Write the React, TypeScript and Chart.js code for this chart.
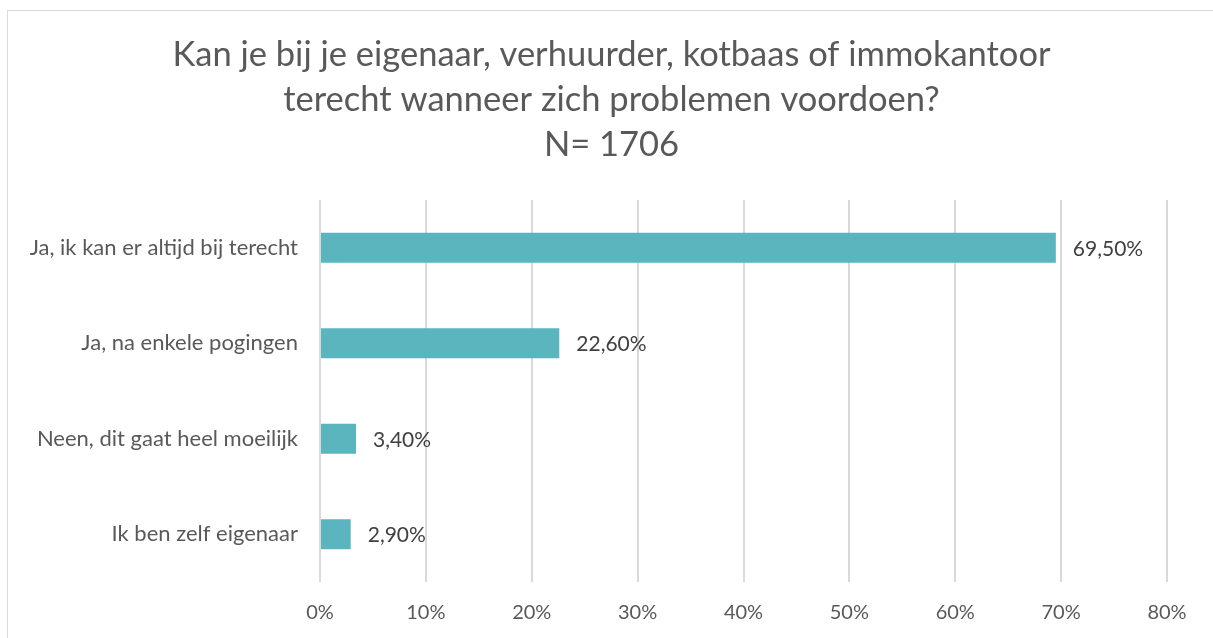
import React, { useEffect, useRef } from "react";
import { Chart, registerables } from "chart.js";

Chart.register(...registerables);

const titleLines = [
  "Kan je bij je eigenaar, verhuurder, kotbaas of immokantoor",
  "terecht wanneer zich problemen voordoen?",
  "N= 1706",
];
const categories = [
  "Ja, ik kan er altijd bij terecht",
  "Ja, na enkele pogingen",
  "Neen, dit gaat heel moeilijk",
  "Ik ben zelf eigenaar",
];
const values = [69.5, 22.6, 3.4, 2.9];
const valueLabels = ["69,50%", "22,60%", "3,40%", "2,90%"];
const xMax = 80;
const xStep = 10;

const FONT = "Lato, 'Open Sans', sans-serif";

const dataLabelPlugin = {
  id: "dataLabels",
  afterDatasetsDraw(chart: any) {
    const ctx = chart.ctx;
    const meta = chart.getDatasetMeta(0);
    ctx.save();
    ctx.font = `21px ${FONT}`;
    ctx.fillStyle = "#404040";
    ctx.textAlign = "left";
    ctx.textBaseline = "middle";
    meta.data.forEach((bar: any, i: number) => {
      ctx.fillText(valueLabels[i], bar.x + 17, bar.y + 1);
    });
    ctx.restore();
  },
};

const titlePlugin = {
  id: "centeredTitle",
  afterDraw(chart: any) {
    const ctx = chart.ctx;
    ctx.save();
    ctx.font = `34.5px ${FONT}`;
    ctx.fillStyle = "#595959";
    ctx.textAlign = "center";
    ctx.textBaseline = "middle";
    const cx = chart.width / 2 + 5;
    titleLines.forEach((line, i) => {
      ctx.fillText(line, cx, 55 + i * 45);
    });
    ctx.restore();
  },
};

export default function App() {
  const ref = useRef<HTMLCanvasElement>(null);
  useEffect(() => {
    if (!ref.current) return;
    const chart = new Chart(ref.current, {
      type: "bar",
      data: {
        labels: categories,
        datasets: [
          {
            data: values,
            backgroundColor: "#5ab5bf",
            borderWidth: 0,
            barPercentage: 1,
            categoryPercentage: 0.314,
          },
        ],
      },
      options: {
        indexAxis: "y",
        animation: false,
        responsive: false,
        layout: { padding: { left: 0, right: 46, top: 200, bottom: 0 } },
        plugins: {
          legend: { display: false },
          tooltip: { enabled: false },
          title: { display: false },
        },
        scales: {
          x: {
            min: 0,
            max: xMax,
            border: { display: false },
            grid: { color: "#d9d9d9", lineWidth: 2, drawTicks: false },
            ticks: {
              stepSize: xStep,
              color: "#595959",
              font: { family: FONT, size: 20 },
              padding: 19,
              callback: (v: any) => `${v}%`,
            },
            afterFit: (s: any) => {
              s.height = 56;
            },
          },
          y: {
            border: { display: false },
            grid: { display: false, drawTicks: false },
            ticks: {
              color: "#595959",
              font: { family: FONT, size: 22 },
              padding: 22,
            },
            afterFit: (s: any) => {
              s.width = 320;
            },
          },
        },
      },
      plugins: [dataLabelPlugin, titlePlugin],
    });
    return () => chart.destroy();
  }, []);

  return (
    <div
      style={{
        position: "fixed",
        left: 0,
        top: 0,
        width: 1213,
        height: 638,
        overflow: "hidden",
        background: "#fff",
      }}
    >
      <div
        style={{
          position: "absolute",
          left: 7,
          top: 10,
          width: 1300,
          height: 800,
          border: "1px solid #d9d9d9",
          boxSizing: "border-box",
        }}
      />
      <canvas
        ref={ref}
        width={1213}
        height={638}
        style={{ position: "absolute", left: 0, top: 0, width: 1213, height: 638 }}
      />
    </div>
  );
}
